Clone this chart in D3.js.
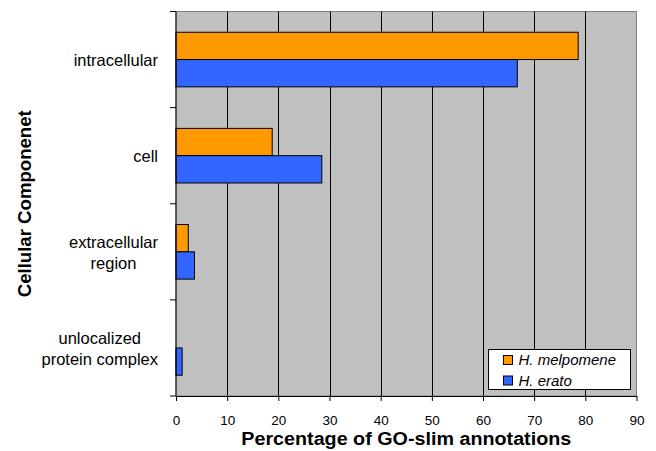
<!DOCTYPE html>
<html><head><meta charset="utf-8">
<script src="https://cdn.jsdelivr.net/npm/d3@7"></script>
<style>
body{margin:0;background:#fff;}
svg{display:block;font-family:"Liberation Sans",Arial,Helvetica,sans-serif;}
</style></head>
<body><svg id="c" width="656" height="451"></svg>
<script>
const categories = ["intracellular","cell","extracellular\nregion","unlocalized\nprotein complex"];
const seriesNames = ["H. melpomene","H. erato"];
const melpomene = [78.6, 18.8, 2.4, 0];
const erato = [66.7, 28.5, 3.6, 1.2];
const xTicks = [0,10,20,30,40,50,60,70,80,90];
const colors = ["#FF9900","#3366FF"];

const svg = d3.select("#c");
const m = {left:176, right:19.5, top:11.5, bottom:55};
const W = 656, H = 451;
const x = d3.scaleLinear().domain([0,90]).range([m.left, W - m.right]);
const y0 = d3.scaleBand().domain(categories).range([m.top, H - m.bottom]).paddingInner(0.432).paddingOuter(0.216);
const y1 = d3.scaleBand().domain(seriesNames).range([0, y0.bandwidth()]);
const data = categories.map((c,i)=>({cat:c, vals:[melpomene[i], erato[i]]}));

// plot background
svg.append("rect").attr("x",x(0)).attr("y",m.top).attr("width",x(90)-x(0)).attr("height",H-m.bottom-m.top)
  .attr("fill","#C0C0C0").attr("stroke","#808080").attr("stroke-width",1);

// gridlines
svg.append("g").selectAll("line").data(xTicks.filter(t=>t>0 && t<90)).join("line")
  .attr("x1",d=>Math.round(x(d))+0.5).attr("x2",d=>Math.round(x(d))+0.5)
  .attr("y1",m.top).attr("y2",H-m.bottom).attr("stroke","#000").attr("stroke-width",1);

// bars
const g = svg.append("g");
data.forEach(d=>{
  d.vals.forEach((v,j)=>{
    if (v<=0) return;
    g.append("rect")
      .attr("x",x(0)).attr("y",y0(d.cat)+y1(seriesNames[j]))
      .attr("width",x(v)-x(0)).attr("height",y1.bandwidth())
      .attr("fill",colors[j]).attr("stroke","#000").attr("stroke-width",1);
  });
});

// x axis
const xa = svg.append("g").attr("transform",`translate(0,${H-m.bottom})`)
  .call(d3.axisBottom(x).tickValues(xTicks).tickSize(5).tickSizeOuter(0).tickPadding(14));
xa.attr("font-size",null).attr("font-family",null);
xa.select(".domain").attr("stroke","#000");
xa.selectAll(".tick line").attr("stroke","#000");
xa.selectAll(".tick text").style("font-size","13.5px").attr("fill","#000");

// y axis line + ticks at band boundaries
const bounds = categories.map(c=>y0(c)-y0.step()*y0.paddingInner()/2).concat([H-m.bottom]);
svg.append("line").attr("x1",x(0)).attr("x2",x(0)).attr("y1",m.top).attr("y2",H-m.bottom).attr("stroke","#000");
svg.append("g").selectAll("line").data(bounds).join("line")
  .attr("x1",x(0)-6).attr("x2",x(0)).attr("y1",d=>d).attr("y2",d=>d).attr("stroke","#000");

// category labels
const rightEdge = 158;
const lineH = 20.5;
data.forEach(d=>{
  const lines = d.cat.split("\n");
  const cy = y0(d.cat) + y0.bandwidth()/2 + 1;
  const t = svg.append("text").attr("font-size","16.5px").attr("fill","#000").attr("text-anchor","middle");
  const spans = lines.map((ln,k)=>t.append("tspan").text(ln)
     .attr("y", cy + (k-(lines.length-1)/2)*lineH).attr("dy","0.35em"));
  const wmax = d3.max(spans.map(s=>s.node().getComputedTextLength()));
  spans.forEach(s=>s.attr("x", rightEdge - wmax/2));
});

// titles
svg.append("text").attr("x",(x(0)+x(90))/2).attr("y",445).attr("text-anchor","middle")
  .attr("font-size","18px").attr("font-weight","bold")
  .attr("textLength",330).attr("lengthAdjust","spacingAndGlyphs")
  .text("Percentage of GO-slim annotations");
svg.append("text").attr("transform",`translate(25,${(m.top+H-m.bottom)/2}) rotate(-90)`)
  .attr("text-anchor","middle").attr("dy","0.35em")
  .attr("font-size","18px").attr("font-weight","bold")
  .attr("textLength",187).attr("lengthAdjust","spacingAndGlyphs")
  .text("Cellular Componenet");

// legend
const lg = svg.append("g").attr("transform","translate(488.5,349.5)");
lg.append("rect").attr("width",142).attr("height",40).attr("fill","#fff").attr("stroke","#000");
seriesNames.forEach((s,i)=>{
  lg.append("rect").attr("x",15).attr("y",6+i*20.5).attr("width",9).attr("height",9)
    .attr("fill",colors[i]).attr("stroke","#000");
  lg.append("text").attr("x",30).attr("y",10.5+i*20.5).attr("dy","0.35em")
    .attr("font-size","15px").attr("font-style","italic").text(s);
});
</script></body></html>
